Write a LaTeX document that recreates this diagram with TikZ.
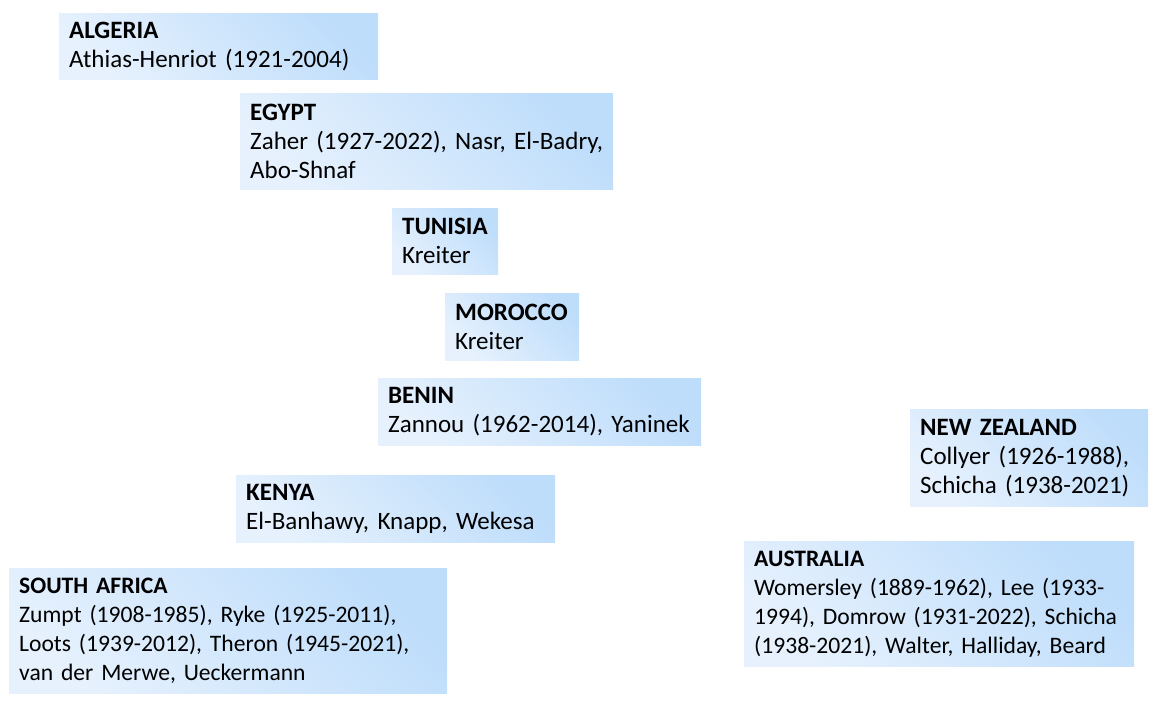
\documentclass[tikz,border=0pt]{standalone}
\usepackage{fontspec}
\setmainfont{Carlito}
\usepackage{tikz}
\usetikzlibrary{positioning,shapes}
\definecolor{boxdark}{RGB}{190,221,251}
\definecolor{boxlight}{RGB}{230,241,253}
\tikzstyle{country}=[rectangle,anchor=north west,inner xsep=10pt,inner ysep=4pt,align=left,shading=axis,top color=boxdark,bottom color=boxlight,shading angle=-45,font=\fontsize{25}{29}\selectfont]
\tikzstyle{dense}=[font=\fontsize{23.6}{29}\selectfont]
\newcommand{\cname}[1]{\textbf{#1}}
\begin{document}
\begin{tikzpicture}[x=1pt,y=-1pt]
	\useasboundingbox (0,0) rectangle (1158,702);
	\node [style=country, text width=299pt, minimum height=66pt] (algeria) at (59,13) {\cname{ALGERIA}\\Athias-Henriot (1921-2004)};
	\node [style=country, text width=353pt, minimum height=96pt] (egypt) at (240,93) {\cname{EGYPT}\\Zaher (1927-2022), Nasr, El-Badry,\\Abo-Shnaf};
	\node [style=country, text width=86pt, minimum height=66pt] (tunisia) at (392,208) {\cname{TUNISIA}\\Kreiter};
	\node [style=country, text width=114pt, minimum height=67pt] (morocco) at (445,293) {\cname{MOROCCO}\\Kreiter};
	\node [style=country, text width=303pt, minimum height=67pt] (benin) at (378,378) {\cname{BENIN}\\Zannou (1962-2014), Yaninek};
	\node [style=country, text width=218pt, minimum height=97pt] (nz) at (910,409) {\cname{NEW ZEALAND}\\Collyer (1926-1988),\\Schicha (1938-2021)};
	\node [style=country, text width=299pt, minimum height=67pt] (kenya) at (236,475) {\cname{KENYA}\\El-Banhawy, Knapp, Wekesa};
	\node [style=country, style=dense, text width=370pt, minimum height=125pt] (australia) at (744,541) {\cname{AUSTRALIA}\\Womersley (1889-1962), Lee (1933-\\1994), Domrow (1931-2022), Schicha\\(1938-2021), Walter, Halliday, Beard};
	\node [style=country, style=dense, text width=418pt, minimum height=125pt] (safrica) at (9,568) {\cname{SOUTH AFRICA}\\Zumpt (1908-1985), Ryke (1925-2011),\\Loots (1939-2012), Theron (1945-2021),\\van der Merwe, Ueckermann};
\end{tikzpicture}
\end{document}
